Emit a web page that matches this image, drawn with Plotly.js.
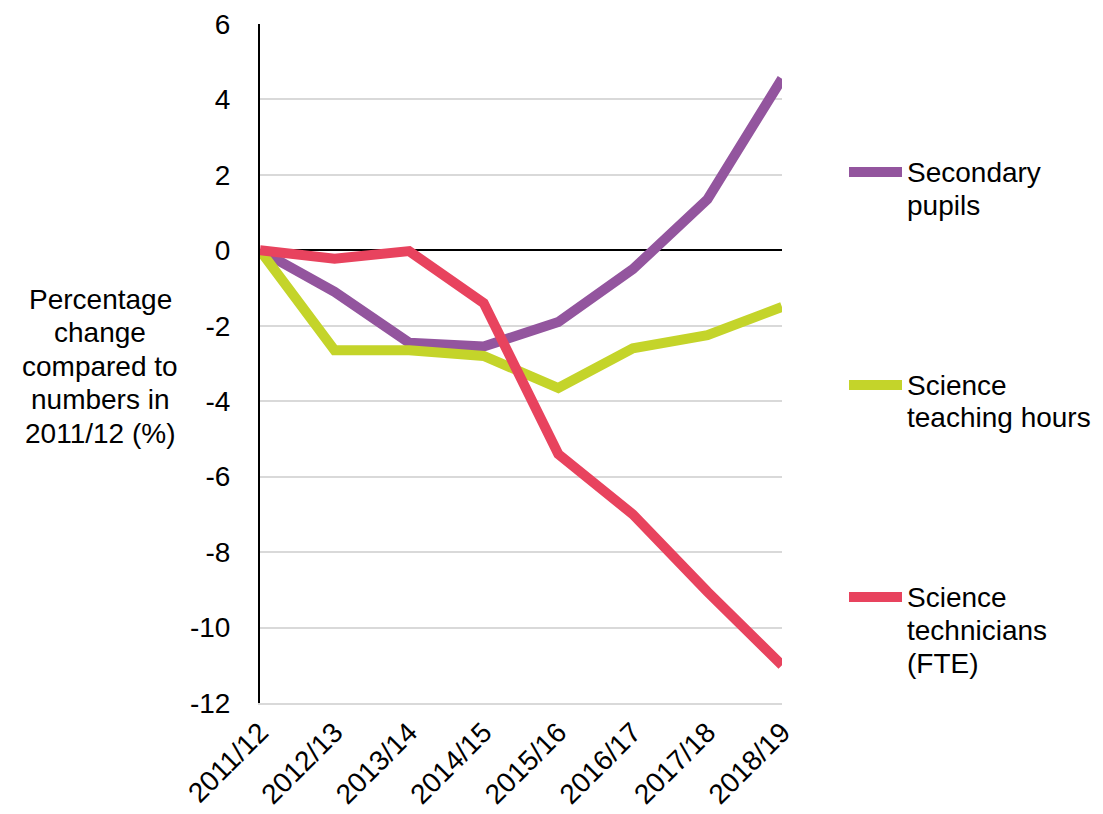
<!DOCTYPE html>
<html>
<head>
<meta charset="utf-8">
<script src="https://cdn.plot.ly/plotly-3.0.1.min.js"></script>
<style>html,body{margin:0;padding:0;background:#fff;}#chart{width:1103px;height:814px;}</style>
</head>
<body>
<div id="chart"></div>
<script>
var years = ["2011/12","2012/13","2013/14","2014/15","2015/16","2016/17","2017/18","2018/19"];
var secondaryPupils = [0, -1.1, -2.45, -2.55, -1.9, -0.5, 1.35, 4.55];
var scienceTeachingHours = [0, -2.65, -2.65, -2.8, -3.65, -2.6, -2.25, -1.5];
var scienceTechnicians = [0, -0.22, -0.02, -1.4, -5.4, -7.0, -9.05, -11.0];
var seriesNames = [["Secondary", "pupils"], ["Science", "teaching hours"], ["Science", "technicians", "(FTE)"]];
var yTitleLines = ["Percentage", "change", "compared to", "numbers in", "2011/12 (%)"];
var yTickVals = [-12, -10, -8, -6, -4, -2, 0, 2, 4, 6];
var yTickText = ["-12", "-10", "-8", "-6", "-4", "-2", "0", "2", "4", "6"];

var FONT = "Liberation Sans, Arial, sans-serif";
var FS = 28;
var colors = ["#93559e", "#c4d42a", "#e8435e"];
var vals = [secondaryPupils, scienceTeachingHours, scienceTechnicians];

// plot area geometry in pixels (used only to place text/legend in paper coords)
var W = 1103, H = 814, L = 260, R = 321, T = 24, B = 111;
var pw = W - L - R, ph = H - T - B;
function px(x){ return (x - L) / pw; }
function py(y){ return (H - B - y) / ph; }

var traces = vals.map(function(v, i){
  return {
    x: years, y: v, type: "scatter", mode: "lines",
    name: seriesNames[i].join(" "),
    line: {color: colors[i], width: 10, shape: "linear"},
    showlegend: false,
    hoverinfo: "x+y+name"
  };
});

var annotations = [];
var shapes = [];
var LH = 33.5;
yTitleLines.forEach(function(t, k){
  annotations.push({
    xref: "paper", yref: "paper", x: px(100), y: py(299 + k * LH),
    xanchor: "center", yanchor: "middle", text: t, showarrow: false,
    font: {family: FONT, size: FS, color: "#000"}
  });
});
var legendY = [172, 385, 597];
seriesNames.forEach(function(lines, i){
  shapes.push({
    type: "line", xref: "paper", yref: "paper",
    x0: px(849), x1: px(902), y0: py(legendY[i]), y1: py(legendY[i]),
    line: {color: colors[i], width: 10}
  });
  lines.forEach(function(t, k){
    annotations.push({
      xref: "paper", yref: "paper", x: px(905), y: py(legendY[i] + k * 33),
      xanchor: "left", yanchor: "middle", text: t, showarrow: false,
      font: {family: FONT, size: FS, color: "#000"}
    });
  });
});

var layout = {
  width: W, height: H,
  margin: {l: L, r: R, t: T, b: B},
  paper_bgcolor: "#ffffff", plot_bgcolor: "#ffffff",
  font: {family: FONT, size: FS, color: "#000"},
  showlegend: false,
  xaxis: {
    type: "category", range: [0, 7], showgrid: false, zeroline: false,
    showline: true, linecolor: "#d9d9d9", linewidth: 1.5, ticks: "", tickangle: -45,
    tickfont: {family: FONT, size: FS, color: "#000"}, fixedrange: true
  },
  yaxis: {
    range: [-12, 6], tickmode: "array", tickvals: yTickVals, ticktext: yTickText,
    showgrid: true, gridcolor: "#d9d9d9", gridwidth: 1.5,
    zeroline: true, zerolinecolor: "#000", zerolinewidth: 1.5,
    showline: true, linecolor: "#000", linewidth: 2,
    ticks: "outside", ticklen: 22, tickcolor: "rgba(0,0,0,0)",
    tickfont: {family: FONT, size: FS, color: "#000"}, fixedrange: true
  },
  annotations: annotations,
  shapes: shapes
};

Plotly.newPlot("chart", traces, layout, {displayModeBar: false});
</script>
</body>
</html>
